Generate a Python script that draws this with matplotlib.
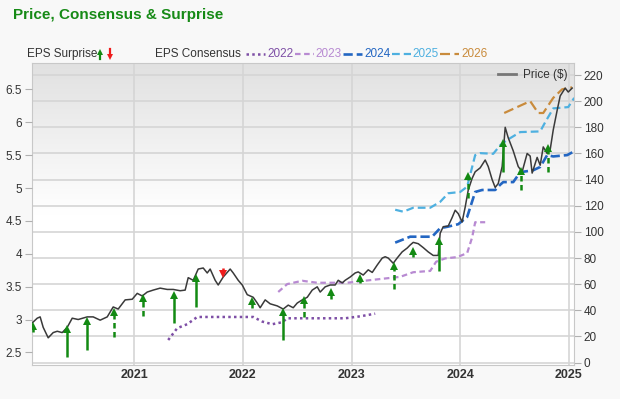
import numpy as np
import matplotlib
matplotlib.use('Agg')
import matplotlib.pyplot as plt
from matplotlib.lines import Line2D
from matplotlib.colors import LinearSegmentedColormap

plt.rcParams['font.family'] = ['Liberation Sans', 'DejaVu Sans']

# share price ($), x in decimal years
price_t = [2020.062, 2020.108, 2020.135, 2020.163, 2020.209, 2020.255, 2020.292, 2020.338,
           2020.384, 2020.430, 2020.485, 2020.568, 2020.623, 2020.687, 2020.752, 2020.807,
           2020.853, 2020.917, 2020.982, 2021.028, 2021.074, 2021.120, 2021.175, 2021.239,
           2021.304, 2021.359, 2021.423, 2021.469, 2021.497, 2021.543, 2021.589, 2021.635,
           2021.672, 2021.699, 2021.745, 2021.773, 2021.819, 2021.883, 2021.911, 2021.957,
           2021.994, 2022.040, 2022.095, 2022.132, 2022.159, 2022.205, 2022.251, 2022.316,
           2022.371, 2022.417, 2022.463, 2022.500, 2022.546, 2022.592, 2022.638, 2022.684,
           2022.711, 2022.757, 2022.803, 2022.849, 2022.877, 2022.914, 2022.941, 2022.987,
           2023.033, 2023.061, 2023.107, 2023.153, 2023.190, 2023.236, 2023.282, 2023.309,
           2023.337, 2023.383, 2023.419, 2023.465, 2023.512, 2023.539, 2023.567, 2023.613,
           2023.659, 2023.705, 2023.751, 2023.797, 2023.815, 2023.843, 2023.889, 2023.925,
           2023.953, 2023.981, 2024.017, 2024.045, 2024.073, 2024.109, 2024.137, 2024.183,
           2024.229, 2024.257, 2024.293, 2024.321, 2024.349, 2024.385, 2024.413, 2024.441,
           2024.487, 2024.533, 2024.569, 2024.615, 2024.643, 2024.661, 2024.707, 2024.735,
           2024.763, 2024.799, 2024.827, 2024.855, 2024.891, 2024.919, 2024.965, 2024.993,
           2025.029]
price_v = [30.4, 34, 35, 27, 19, 23, 24, 23,
           27, 34, 33, 35, 35, 32.5, 35, 42.6,
           41, 48, 48.5, 53, 51, 54, 55.5, 57,
           56, 56, 55, 55.5, 65, 63, 71.6, 72.4,
           68.6, 71.6, 63, 59.4, 65.5, 71.6, 68.6, 63,
           59.4, 52, 50, 45.6, 42, 48, 45, 43.4,
           41, 44, 42, 45.6, 48, 50, 55.5, 58,
           54, 58, 59.4, 59.4, 63, 61, 63, 65.5,
           68.6, 69.4, 67, 71, 69, 74.7, 80, 81,
           80, 76, 80, 84.7, 87.7, 90, 92, 91,
           88, 84.7, 82, 82, 99, 104, 104.5, 111,
           116.6, 114, 107.6, 119, 132, 141, 146, 149,
           155, 150, 140, 134, 137, 150, 180, 172,
           162, 150, 146, 160, 158, 145, 157, 151,
           165, 160, 163, 178, 193, 204, 210, 207,
           210]

# EPS consensus per fiscal year
cons_2022_t = [2021.313, 2021.396, 2021.488, 2021.580, 2022.095, 2022.178, 2022.270,
               2022.362, 2022.408, 2022.941, 2023.079, 2023.217]
cons_2022_v = [2.69, 2.87, 2.93, 3.04, 3.04, 2.97, 2.93, 2.96, 3.02, 3.02, 3.05, 3.09]

cons_2023_t = [2022.325, 2022.408, 2022.546, 2022.684, 2022.960, 2023.171, 2023.447,
               2023.567, 2023.723, 2023.778, 2023.861, 2023.971, 2024.063, 2024.109,
               2024.137, 2024.229]
cons_2023_v = [3.42, 3.54, 3.59, 3.56, 3.56, 3.60, 3.65, 3.72, 3.74, 3.88, 3.93, 3.95,
               4.01, 4.25, 4.48, 4.48]

cons_2024_t = [2023.401, 2023.539, 2023.741, 2023.815, 2023.879, 2023.981, 2024.063,
               2024.137, 2024.201, 2024.321, 2024.367, 2024.395, 2024.487, 2024.551,
               2024.671, 2024.735, 2024.799, 2024.855, 2024.983, 2025.039]
cons_2024_v = [4.17, 4.26, 4.26, 4.39, 4.41, 4.45, 4.56, 4.94, 4.97, 4.97, 5.05, 5.09,
               5.09, 5.24, 5.27, 5.32, 5.50, 5.48, 5.50, 5.55]

cons_2025_t = [2023.401, 2023.475, 2023.567, 2023.723, 2023.815, 2023.889, 2023.999,
               2024.063, 2024.137, 2024.183, 2024.303, 2024.367, 2024.431, 2024.551,
               2024.735, 2024.781, 2024.855, 2024.993, 2025.048]
cons_2025_v = [4.67, 4.64, 4.70, 4.70, 4.79, 4.92, 4.94, 5.02, 5.50, 5.53, 5.52, 5.65,
               5.73, 5.85, 5.86, 6.00, 6.21, 6.23, 6.37]

cons_2026_t = [2024.404, 2024.523, 2024.643, 2024.717, 2024.763, 2024.855, 2024.937, 2025.029]
cons_2026_v = [6.14, 6.23, 6.32, 6.14, 6.14, 6.37, 6.50, 6.53]

# EPS surprise arrows, tip / tail on the price scale
surp_t = [2020.071, 2020.384, 2020.568, 2020.816, 2021.083, 2021.368, 2021.570, 2021.819,
          2022.086, 2022.371, 2022.564, 2022.812, 2023.079, 2023.392, 2023.567, 2023.806,
          2024.073, 2024.395, 2024.561, 2024.809]
surp_tip = [30.4, 28.1, 34.2, 41.1, 51.8, 54.1, 67.1, 65.5, 49.5, 41.1, 50.2, 56.4, 67.1,
            76.2, 87.7, 95.4, 145, 170.3, 148.9, 166.5]
surp_tail = [23.5, 4.4, 9.7, 19.7, 35.7, 30.4, 42.6, 72.4, 41.8, 17.4, 35, 48.7, 61,
             56.4, 80.8, 70.1, 126, 145.8, 132, 145.8]
surp_dashed = [True, False, False, True, True, False, False, False, True, False, True, True,
               True, True, True, False, True, False, True, True]

years = ['2021', '2022', '2023', '2024', '2025']
eps_ticks = [2.5, 3, 3.5, 4, 4.5, 5, 5.5, 6, 6.5]
price_ticks = list(range(0, 221, 20))

green = '#138a13'
red = '#ee1c1c'
series = [
    ('2022', cons_2022_t, cons_2022_v, '#7e4fa6', (0, (1, 1.3)), 1.8),
    ('2023', cons_2023_t, cons_2023_v, '#b88ad2', (0, (2.5, 1.6)), 1.6),
    ('2024', cons_2024_t, cons_2024_v, '#2366c2', (0, (3.5, 1.5)), 1.9),
    ('2025', cons_2025_t, cons_2025_v, '#4eb0e0', (0, (3.5, 1.8)), 1.6),
    ('2026', cons_2026_t, cons_2026_v, '#c98b3c', (0, (4.5, 2)), 1.6),
]

fig = plt.figure(figsize=(6.2, 3.99), dpi=100)
fig.patch.set_facecolor('#f8f8f8')
ax = fig.add_axes([32/620, 34/399, 542/620, 302/399])
ax_e = ax.twinx()
ax_p = ax.twinx()
xlim = (2020.06, 2025.046)
plim = (-1.8, 229.2)

# background gradient + grid (price scale, ticks on the right)
grad = np.linspace(1, 0, 256).reshape(-1, 1)
cmap = LinearSegmentedColormap.from_list('bg', [(0, 'white'), (0.5, 'white'), (1, '#e1e1e1')])
ax.imshow(grad, extent=[xlim[0], xlim[1], plim[0], plim[1]], aspect='auto', cmap=cmap, zorder=0)
ax.set_xlim(xlim)
ax.set_ylim(plim)
ax.yaxis.tick_right()
ax.set_yticks(price_ticks)
ax.set_yticklabels([str(v) for v in price_ticks])
ax.set_xticks([int(y) for y in years])
ax.set_xticklabels(years, fontweight='bold')
ax.grid(True, color='#d5d5d5', lw=1.2)
ax.tick_params(axis='y', length=5, color='#b0b0b0', labelsize=8.5, labelcolor='#333333', pad=2)
ax.tick_params(axis='x', length=0, labelsize=9, labelcolor='#333333', pad=3)
for s in ax.spines.values():
    s.set_color('#c8c8c8')

# EPS consensus (left scale)
ax_e.yaxis.tick_left()
ax_e.set_ylim(2.31, 6.9)
ax_e.set_yticks(eps_ticks)
ax_e.set_yticklabels(['%g' % v for v in eps_ticks])
ax_e.tick_params(axis='y', length=5, color='#b0b0b0', labelsize=8.5, labelcolor='#333333', pad=2)
for s in ax_e.spines.values():
    s.set_visible(False)
for name, t, v, c, ls, lw in series:
    ax_e.plot(t, v, color=c, linestyle=ls, lw=lw)

# price + surprise arrows (right scale)
ax_p.set_ylim(plim)
ax_p.set_yticks([])
for s in ax_p.spines.values():
    s.set_visible(False)
ax_p.plot(price_t, price_v, color='#3a3a3a', lw=1.1, label='Price ($)')
head = 5.0
for t, tip, tail, dashed in zip(surp_t, surp_tip, surp_tail, surp_dashed):
    up = tip > tail
    c = green if up else red
    ls = (0, (2.2, 1.4)) if dashed else '-'
    end = tip - head * 0.7 if up else tip + head * 0.7
    ax_p.plot([t, t], [tail, end], color=c, lw=1.8, linestyle=ls, solid_capstyle='butt')
    ax_p.plot(t, tip - head / 2 if up else tip + head / 2, marker='^' if up else 'v',
              color=c, ms=6, mew=0)
ax_p.set_xlim(xlim)
leg = ax_p.legend(loc='upper right', frameon=False, fontsize=8.5, handlelength=1.6,
                  borderaxespad=0.1, handletextpad=0.6)
for txt in leg.get_texts():
    txt.set_color('#333333')
leg.get_lines()[0].set_color('#777777')
leg.get_lines()[0].set_linewidth(2)

# title and top legend
fig.text(13/620, 1 - 15/399, 'Price, Consensus & Surprise', color='#168a16',
         fontsize=11, fontweight='bold', va='center')
ly = 1 - 54/399
fig.text(27/620, ly, 'EPS Surprise', fontsize=8.5, color='#333333', va='center')
for px, c, mk, y0, y1, ym in [(100, green, '^', -5, 1, 2.5), (110, red, 'v', 5, -1, -2.5)]:
    fig.add_artist(Line2D([px/620, px/620], [ly + y0/399, ly + y1/399], color=c, lw=1.6,
                          transform=fig.transFigure))
    fig.add_artist(Line2D([px/620], [ly + ym/399], marker=mk, color=c,
                          ms=5, mew=0, transform=fig.transFigure))
fig.text(155/620, ly, 'EPS Consensus', fontsize=8.5, color='#333333', va='center')
x0 = 246
for name, t, v, c, ls, lw in series:
    fig.add_artist(Line2D([x0/620, (x0 + 19)/620], [ly, ly], color=c, linestyle=ls, lw=lw,
                          transform=fig.transFigure))
    fig.text((x0 + 21)/620, ly, name, fontsize=8.5, color=c, va='center')
    x0 += 48.5

fig.savefig('out.png', dpi=100, facecolor=fig.get_facecolor())
